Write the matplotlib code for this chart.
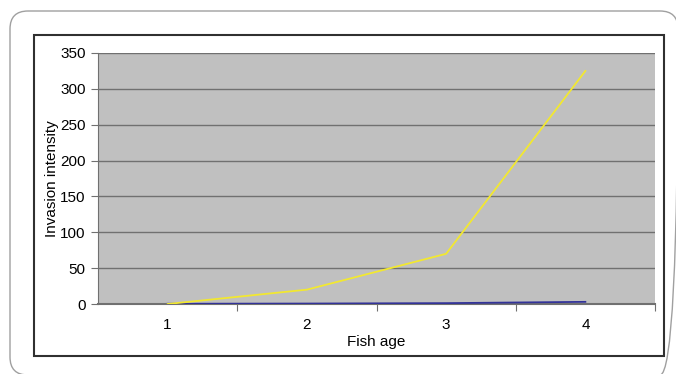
import matplotlib.pyplot as plt
from matplotlib.patches import FancyBboxPatch, Rectangle

plt.rcParams["font.family"] = ["Liberation Sans", "DejaVu Sans"]

ages = [1, 2, 3, 4]
yellow_series = [0, 20, 70, 325]
blue_series = [0.3, 0.6, 1.2, 3]
y_ticks = [0, 50, 100, 150, 200, 250, 300, 350]

W, H = 676, 374
fig = plt.figure(figsize=(W / 100, H / 100), dpi=100)

# overlay in pixel coordinates for the frames
bg = fig.add_axes([0, 0, 1, 1])
bg.set_xlim(0, W)
bg.set_ylim(H, 0)
bg.axis("off")
bg.add_patch(FancyBboxPatch((10, 11), 668, 364,
                            boxstyle="round,pad=0,rounding_size=18",
                            fill=False, edgecolor="#a0a0a0", linewidth=1.0))
bg.add_patch(Rectangle((34, 35), 630, 321, fill=False,
                       edgecolor="#303030", linewidth=1.5))

ax = fig.add_axes([98 / W, 1 - 304 / H, 557 / W, 251 / H])
ax.set_facecolor("#c0c0c0")
ax.set_xlim(0.5, 4.5)
ax.set_ylim(0, 350)
ax.set_yticks(y_ticks)
ax.yaxis.grid(True, color="#707070", linewidth=1.0)
ax.set_axisbelow(True)

ax.plot(ages, blue_series, color="#333399", linewidth=1.3, zorder=3)
ax.plot(ages, yellow_series, color="#f2e830", linewidth=1.3, zorder=4)

ax.set_xticks([1.5, 2.5, 3.5, 4.5])
ax.set_xticklabels([])
ax.set_xticks(ages, minor=True)
ax.set_xticklabels([str(a) for a in ages], minor=True)
ax.tick_params(axis="x", which="minor", length=0, pad=10, labelsize=11)
ax.tick_params(axis="x", which="major", length=5, color="#707070", direction="out")
ax.tick_params(axis="y", length=5, color="#707070", labelsize=11, pad=4)

for side in ["top", "right"]:
    ax.spines[side].set_visible(False)
ax.spines["left"].set_color("#707070")
ax.spines["bottom"].set_color("#707070")
ax.spines["bottom"].set_linewidth(1.5)

ax.set_xlabel("Fish age", fontsize=11, labelpad=2)
ax.set_ylabel("Invasion intensity", fontsize=11, labelpad=1)

fig.savefig("out.png", dpi=100)
